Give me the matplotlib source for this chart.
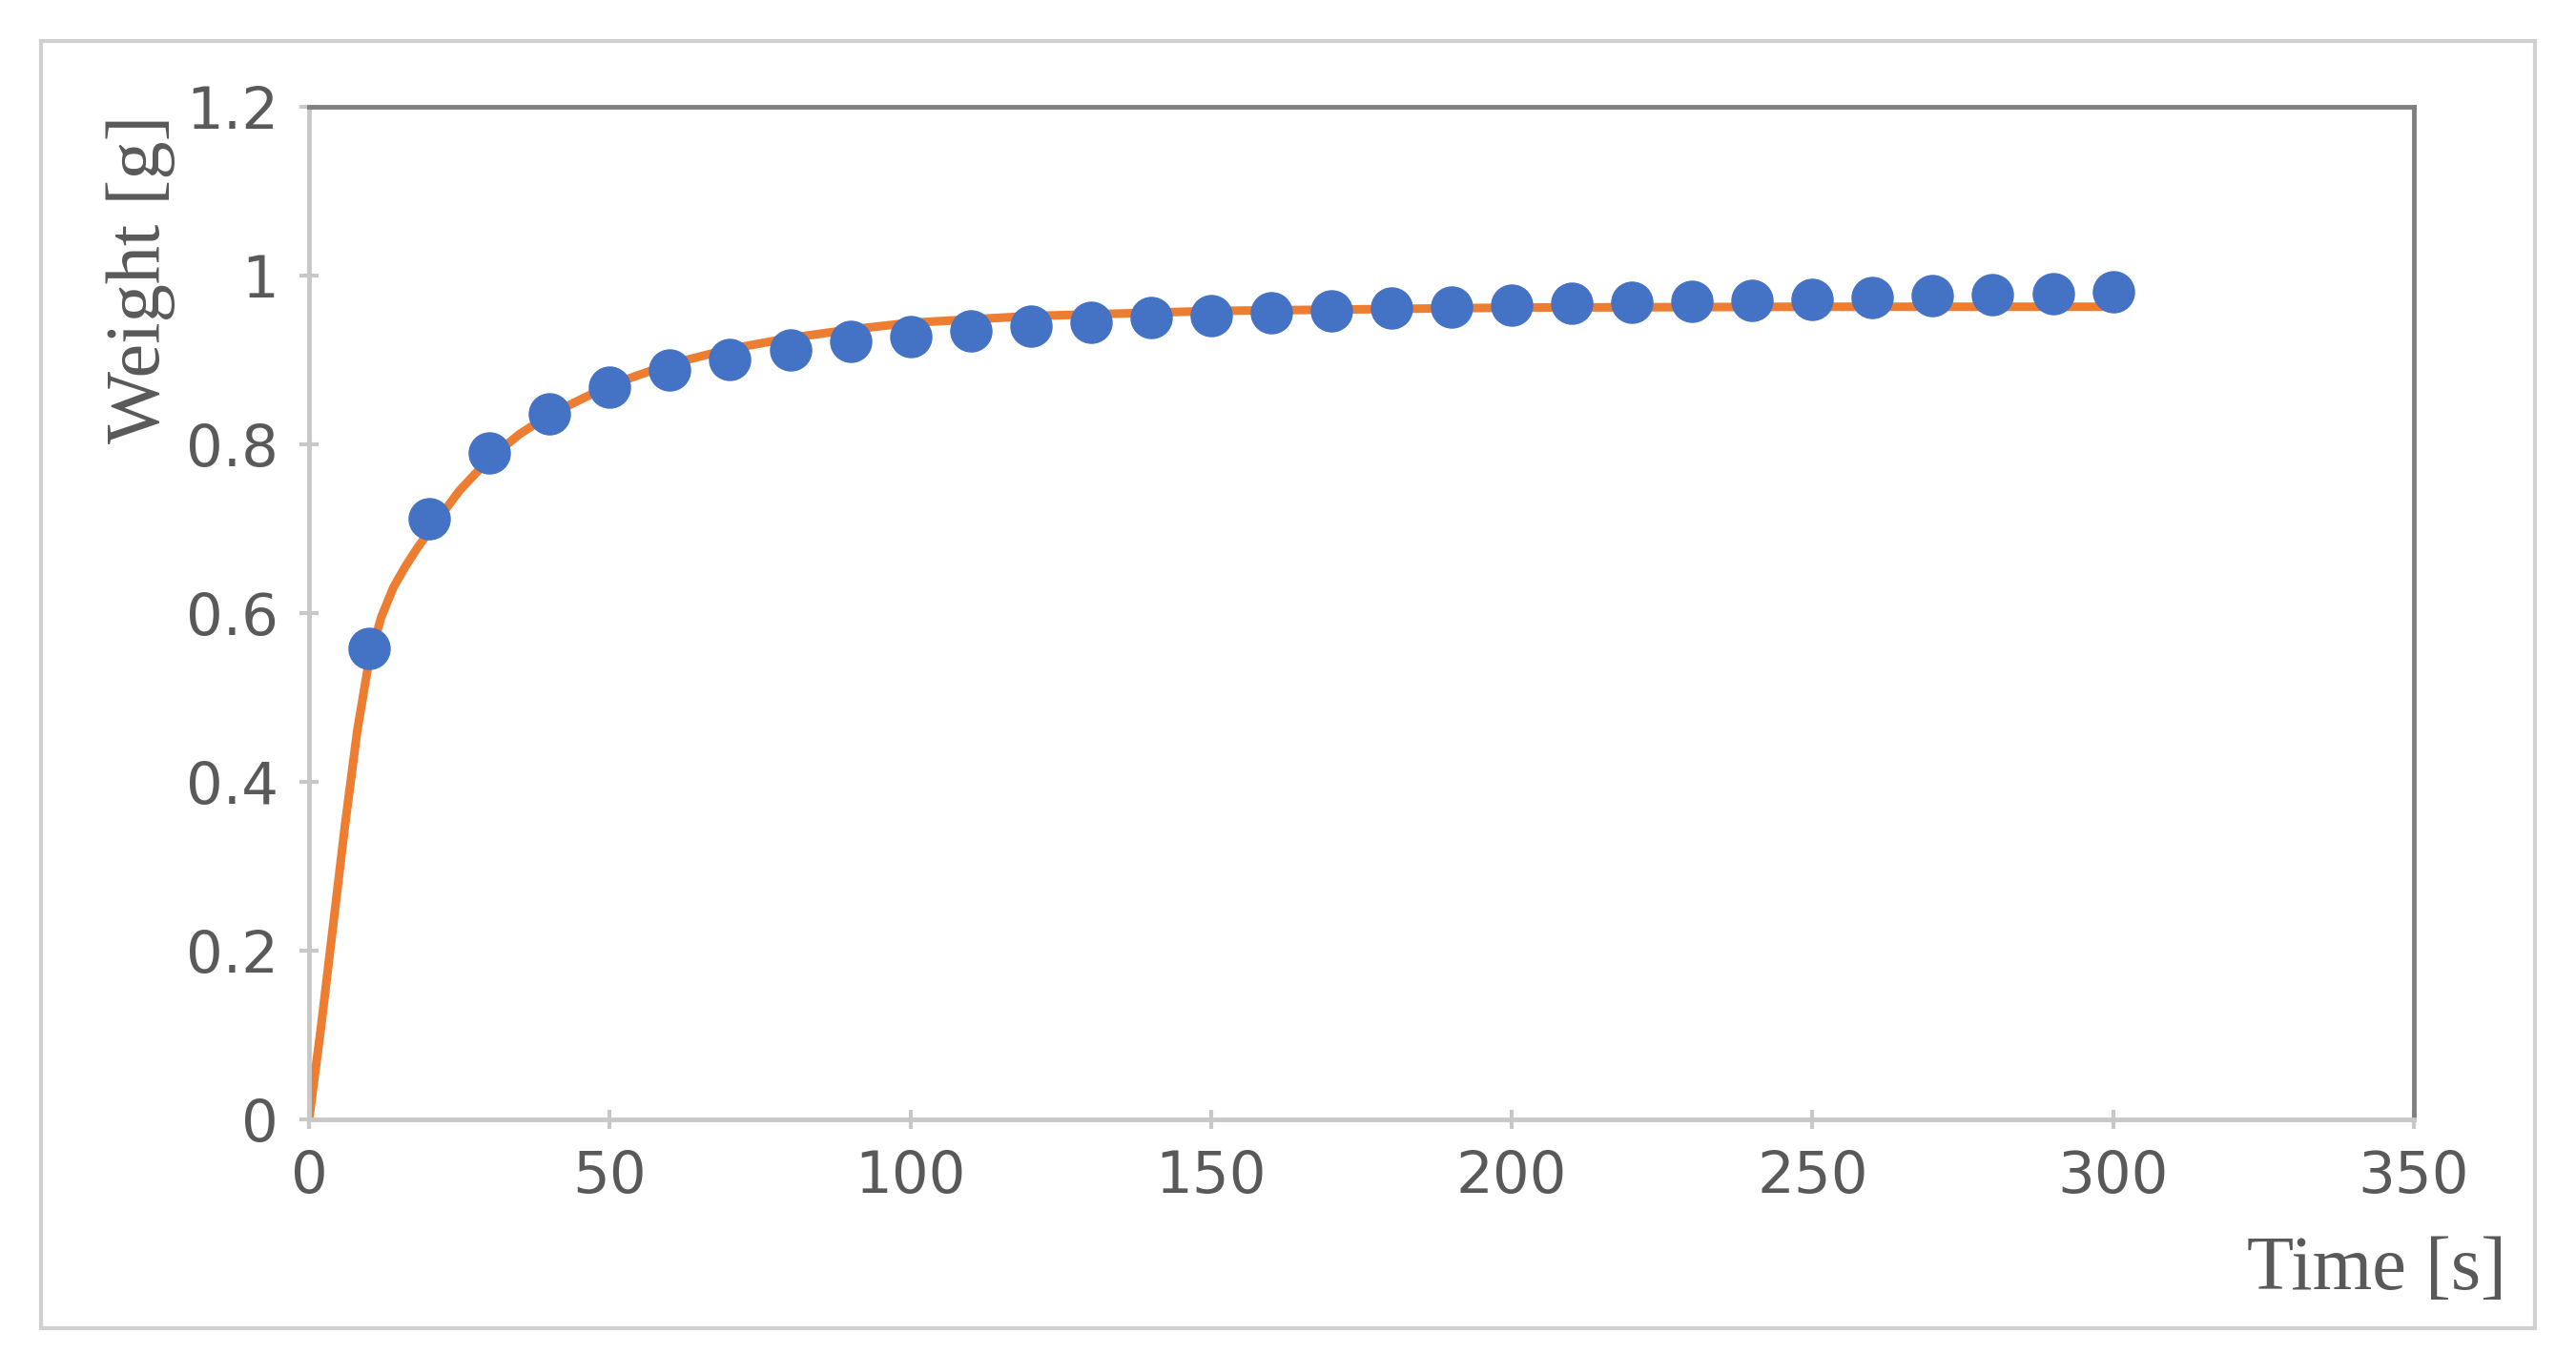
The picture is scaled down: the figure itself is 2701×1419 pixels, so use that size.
import matplotlib
matplotlib.use("Agg")
import matplotlib.pyplot as plt
from matplotlib.patches import Rectangle

time_s = list(range(10, 301, 10))
weight_g = [0.558, 0.712, 0.79, 0.836, 0.868, 0.888, 0.9, 0.912, 0.922, 0.928,
            0.934, 0.94, 0.945, 0.95, 0.953, 0.956, 0.958, 0.961, 0.963, 0.965,
            0.967, 0.968, 0.97, 0.971, 0.972, 0.974, 0.976, 0.977, 0.979, 0.981]
fit_t = [0, 2, 4, 6, 8, 10, 12, 14, 16, 18, 20, 25, 30, 35, 40, 50, 60, 70, 80, 90, 100,
         120, 150, 200, 250, 300]
fit_w = [0, 0.11, 0.23, 0.35, 0.46, 0.545, 0.595, 0.63, 0.655, 0.677, 0.697, 0.745, 0.783,
         0.812, 0.835, 0.87, 0.895, 0.913, 0.926, 0.936, 0.944, 0.952, 0.958, 0.962, 0.963, 0.963]

fig = plt.figure(figsize=(27.01, 14.19), dpi=100)
fig.patches.append(Rectangle((0.016, 0.018), 0.968, 0.952, transform=fig.transFigure,
                             fill=False, edgecolor="#d0d0d0", linewidth=3))
ax = fig.add_axes([0.12, 0.173, 0.817, 0.748])
ax.plot(fit_t, fit_w, color="#ED7D31", linewidth=6.5, zorder=2, solid_joinstyle="round")
ax.plot(time_s, weight_g, "o", color="#4472C4", markersize=31, zorder=3, clip_on=False)
ax.set_xlim(0, 350)
ax.set_ylim(0, 1.2)
ax.set_xticks(range(0, 351, 50))
ax.set_yticks([0, 0.2, 0.4, 0.6, 0.8, 1, 1.2])
ax.set_yticklabels(["0", "0.2", "0.4", "0.6", "0.8", "1", "1.2"])
for s in ["top", "right"]:
    ax.spines[s].set_color("#808080"); ax.spines[s].set_linewidth(3.5)
for s in ["left", "bottom"]:
    ax.spines[s].set_color("#c8c8c8"); ax.spines[s].set_linewidth(3.5)
ax.tick_params(axis="both", colors="#c8c8c8", width=3, length=14, direction="inout",
               labelcolor="#595959", labelsize=44, pad=16)
ax.text(-0.08, 0.83, "Weight [g]", transform=ax.transAxes, rotation=90, ha="center",
        va="center", fontsize=58, family="Liberation Serif", color="#595959")
ax.text(1.044, -0.15, "Time [s]", transform=ax.transAxes, ha="right", va="center",
        fontsize=58, family="Liberation Serif", color="#595959")
fig.savefig("out.png", dpi=100)
